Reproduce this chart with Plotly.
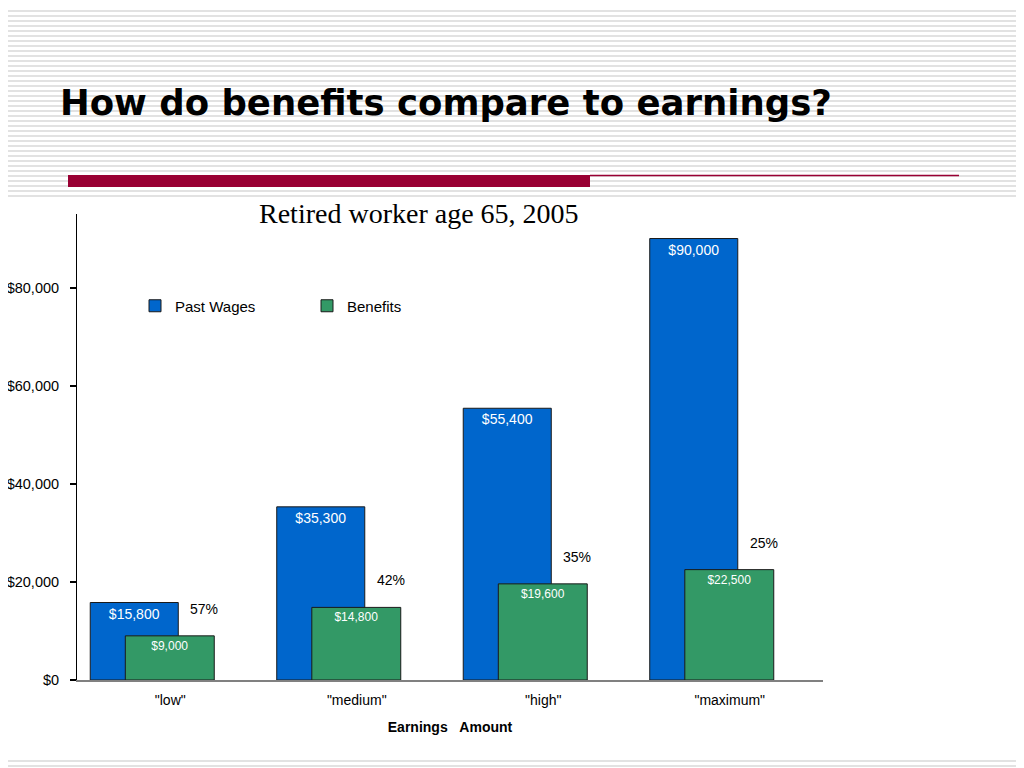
import plotly.graph_objects as go

categories = ['"low"', '"medium"', '"high"', '"maximum"']
past_wages = [15800, 35300, 55400, 90000]
benefits = [9000, 14800, 19600, 22500]
replacement = ["57%", "42%", "35%", "25%"]
y_ticks = [0, 20000, 40000, 60000, 80000]
y_tick_text = ["$0", "$20,000", "$40,000", "$60,000", "$80,000"]

W, H = 1024, 768
OFF = 8  # page offset of the figure (body margin)
# plot area in page pixels
PL, PR, PT, PB = 77, 823, 214, 680
L, R, T, B = PL - OFF, PR - OFF, PT - OFF, PB - OFF


def px(x):
    """page x pixel -> paper"""
    return (x - PL) / (PR - PL)


def py(y):
    """page y pixel -> paper"""
    return (PB - y) / (PB - PT)


fig = go.Figure()
fig.add_trace(go.Bar(
    name="Past Wages", x=categories, y=past_wages,
    width=0.472, offset=-0.429,
    marker=dict(color="#0066CC", line=dict(color="#1a1a1a", width=1)),
    texttemplate="$%{y:,.0f}", textposition="inside", insidetextanchor="end",
    textangle=0,
    textfont=dict(color="white", size=14, family="Liberation Sans, Arial"),
))
fig.add_trace(go.Bar(
    name="Benefits", x=categories, y=benefits,
    width=0.477, offset=-0.241,
    marker=dict(color="#339966", line=dict(color="#1a1a1a", width=1)),
    texttemplate="$%{y:,.0f}", textposition="inside", insidetextanchor="end",
    textangle=0,
    textfont=dict(color="white", size=12, family="Liberation Sans, Arial"),
))

for c, b, r in zip(categories, benefits, replacement):
    fig.add_annotation(x=c, y=b, text=r, showarrow=False, xshift=34, yshift=27,
                       font=dict(size=14, color="black", family="Liberation Sans, Arial"))

# Slide background stripes
path = " ".join(f"M{px(-10):.5f},{py(yy):.5f} H{px(W + 10):.5f}" for yy in range(1, H + 10, 5))
shapes = [
    dict(type="path", path=path, xref="paper", yref="paper", layer="below",
         line=dict(color="#e2e2e2", width=2)),
    dict(type="rect", xref="paper", yref="paper", layer="below",
         x0=px(5), x1=px(1017), y0=py(199), y1=py(760),
         fillcolor="white", line=dict(width=0)),
    dict(type="rect", xref="paper", yref="paper",
         x0=px(68), x1=px(590), y0=py(175), y1=py(187),
         fillcolor="#990033", line=dict(width=0)),
    dict(type="line", xref="paper", yref="paper",
         x0=px(590), x1=px(959), y0=py(175.5), y1=py(175.5),
         line=dict(color="#990033", width=1.5)),
]

fig.add_annotation(xref="paper", yref="paper", x=px(58), y=py(102),
                   xanchor="left", yanchor="middle", showarrow=False,
                   text="<b>How do benefits compare to earnings?</b>",
                   font=dict(size=35.5, color="black", family="DejaVu Sans"))
fig.add_annotation(xref="paper", yref="paper", x=px(419), y=py(213),
                   xanchor="center", yanchor="middle", showarrow=False,
                   text="Retired worker age 65, 2005",
                   font=dict(size=28, color="black", family="Liberation Serif, Times New Roman"))

fig.update_layout(
    width=W, height=H,
    margin=dict(l=L, r=W - R, t=T, b=H - B, pad=0, autoexpand=False),
    paper_bgcolor="white", plot_bgcolor="rgba(0,0,0,0)",
    barmode="overlay",
    shapes=shapes,
    showlegend=True,
    legend=dict(orientation="h", x=px(135), y=py(306), xanchor="left", yanchor="middle",
                entrywidth=127, entrywidthmode="pixels",
                font=dict(size=15, color="black", family="Liberation Sans, Arial"),
                bgcolor="rgba(0,0,0,0)", traceorder="normal"),
    font=dict(family="Liberation Sans, Arial", color="black"),
    xaxis=dict(
        showline=True, linecolor="#808080", linewidth=1.5, ticks="",
        showgrid=False, zeroline=False, ticklabelstandoff=6, automargin=False,
        tickfont=dict(size=14, color="black"),
        title=dict(text="<b>Earnings\u00a0\u00a0\u00a0Amount</b>", standoff=16,
                   font=dict(size=14, color="black")),
    ),
    yaxis=dict(
        range=[0, 95000], showline=True, linecolor="black", linewidth=1,
        ticks="outside", ticklen=6, tickwidth=1.5, tickcolor="black",
        showgrid=False, zeroline=False,
        tickvals=y_ticks, ticktext=y_tick_text, ticklabelstandoff=8, automargin=False,
        tickfont=dict(size=14.5, color="black"),
    ),
)

fig.write_html("out.html")
